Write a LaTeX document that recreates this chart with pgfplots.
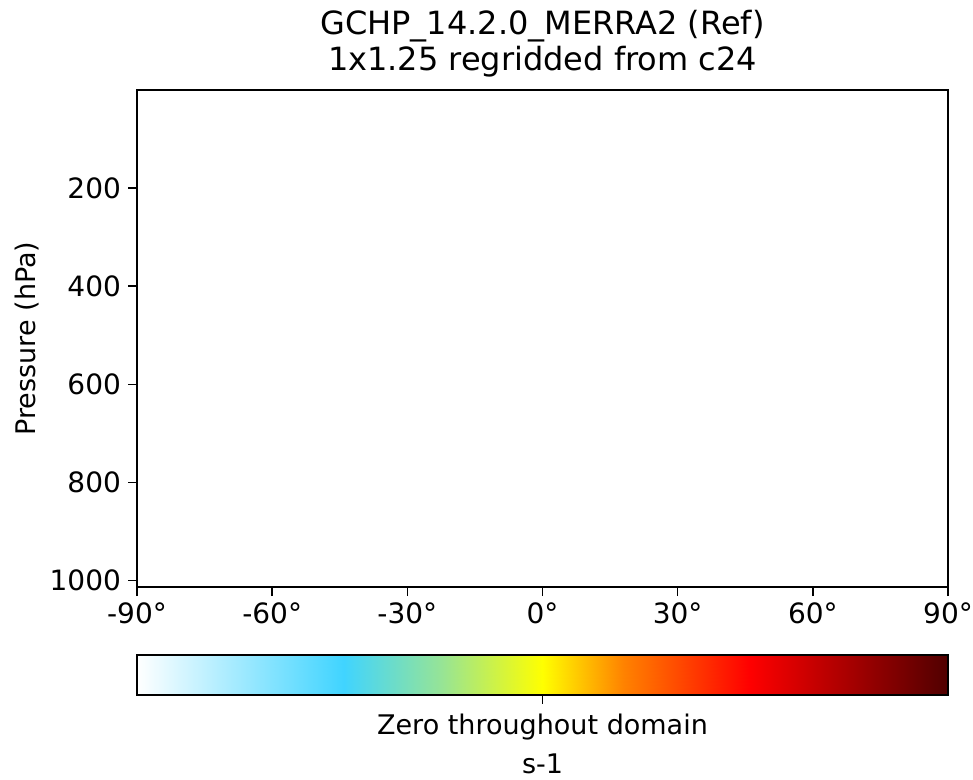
\documentclass[border=0pt]{standalone}
\usepackage{pgfplots}
\pgfplotsset{compat=1.18}
\usepackage{fontspec}
\setmainfont{DejaVu Sans}

\newcommand\tickfont{\fontsize{14}{16.8}\selectfont}
\newcommand\labelfont{\fontsize{13.5}{16}\selectfont}
\newcommand\titlefont{\fontsize{16}{19}\selectfont}

\pgfplotsset{
  colormap={gcpy}{
    rgb255(0cm)=(255,255,255)
    rgb255(2.55cm)=(64,212,255)
    rgb255(3.75cm)=(150,228,150)
    rgb255(5cm)=(255,255,0)
    rgb255(6cm)=(255,130,0)
    rgb255(7.55cm)=(255,0,0)
    rgb255(10cm)=(80,0,0)
  },
  every axis/.append style={
    scale only axis,
    tick align=outside,
    xtick pos=left, ytick pos=left,
    major tick length=4.5pt,
    tick style={black, line width=0.8pt},
    axis line style={line width=0.8pt},
    tick label style={font=\tickfont},
    label style={font=\labelfont},
  },
}

\begin{document}
\begin{tikzpicture}[x=1pt,y=1pt]
\useasboundingbox (0,0) rectangle (486.5,390);

% main (empty) zonal mean panel
\begin{axis}[
  at={(68.5pt,96.5pt)}, anchor=south west,
  width=405.5pt, height=248.5pt,
  xmin=-90, xmax=90, ymin=0, ymax=1013, y dir=reverse,
  xtick={-90,-60,-30,0,30,60,90},
  xticklabels={-90°,-60°,-30°,0°,30°,60°,90°},
  ytick={200,400,600,800,1000},
  yticklabels={200,400,600,800,1000},
  ylabel={Pressure (hPa)},
  ylabel style={xshift=0pt, yshift=-1.5pt},
]
\end{axis}

\node[anchor=base, font=\titlefont] at (271.25,372.5) {GCHP\_14.2.0\_MERRA2 (Ref)};
\node[anchor=base, font=\titlefont] at (271.25,354.5) {1x1.25 regridded from c24};

% colorbar
\begin{axis}[
  at={(68.5pt,42.5pt)}, anchor=south west,
  width=405.5pt, height=20pt,
  xmin=-1, xmax=1, ymin=0, ymax=1,
  ytick=\empty,
  xtick={0}, xticklabels={Zero throughout domain},
  xticklabel style={font=\labelfont, yshift=-1.5pt},
  xlabel={s-1},
  colormap name=gcpy,
  point meta min=-1, point meta max=1,
  axis line style={line width=1pt},
  axis on top,
]
\addplot[surf, shader=interp, mesh/rows=2, point meta=x]
  coordinates {(-1,0) (1,0) (-1,1) (1,1)};
\end{axis}
\end{tikzpicture}
\end{document}
